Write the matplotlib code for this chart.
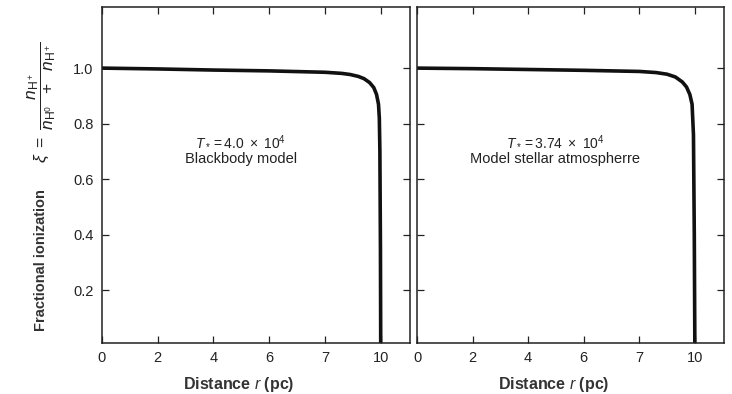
import matplotlib.pyplot as plt

plt.rcParams["font.family"] = ["Liberation Sans", "DejaVu Sans"]
plt.rcParams["mathtext.fontset"] = "custom"
plt.rcParams["mathtext.rm"] = "Liberation Sans"
plt.rcParams["mathtext.it"] = "Liberation Sans:italic"
plt.rcParams["mathtext.bf"] = "Liberation Sans:bold"

# data
r_bb = [0, 2, 4, 6, 8, 8.6, 8.9, 9.2, 9.4, 9.6, 9.75, 9.85, 9.92, 9.95, 9.97, 9.99, 10.0]
xi_bb = [1.0, 0.997, 0.993, 0.99, 0.985, 0.981, 0.977, 0.970, 0.962, 0.948, 0.93, 0.905, 0.87, 0.82, 0.7, 0.35, 0.0]

r_atm = [0, 2, 4, 6, 8, 8.6, 9.0, 9.3, 9.55, 9.7, 9.82, 9.9, 9.95, 9.98, 10.0]
xi_atm = [1.0, 0.998, 0.995, 0.992, 0.988, 0.984, 0.978, 0.968, 0.95, 0.932, 0.905, 0.87, 0.76, 0.4, 0.0]

xticks = [0, 2, 4, 6, 8, 10]
xticklabels = ["0", "2", "4", "6", "7", "10"]
yticks = [0.2, 0.4, 0.6, 0.8, 1.0]
yticklabels = ["0.2", "0.4", "0.6", "0.8", "1.0"]

labels = [
    (r"$T_* = 4.0\ \times\ 10^4$", "Blackbody model"),
    (r"$T_* = 3.74\ \times\ 10^4$", "Model stellar atmospherre"),
]

fig = plt.figure(figsize=(7.32, 3.94), dpi=100)
ax1 = fig.add_axes([0.1393, 0.1294, 0.4208, 0.8528])
ax2 = fig.add_axes([0.5697, 0.1294, 0.4194, 0.8528])

for ax, r, xi, (l1, l2) in zip([ax1, ax2], [r_bb, r_atm], [xi_bb, xi_atm], labels):
    ax.plot(r, xi, color="#111111", lw=2.6, solid_capstyle="butt")
    ax.set_xlim(0, 11.05)
    ax.set_ylim(0.01, 1.22)
    ax.set_xticks(xticks)
    ax.set_xticklabels(xticklabels)
    ax.set_yticks(yticks)
    ax.tick_params(direction="in", length=5, width=0.9, top=True, right=True,
                   labelsize=10.5, colors="#222222", pad=6)
    for s in ax.spines.values():
        s.set_linewidth(1.1)
        s.set_color("#222222")
    ax.set_xlabel(r"Distance $r$ (pc)", fontsize=11.5, fontweight="bold", color="#333333")
    ax.xaxis.set_label_coords(0.445, -0.095)
    ax.text(0.451, 0.574, l1, transform=ax.transAxes, ha="center", va="bottom",
            fontsize=10, color="#222222")
    ax.text(0.451, 0.568, l2, transform=ax.transAxes, ha="center", va="top",
            fontsize=10.5, color="#222222")

ax1.set_yticklabels(yticklabels)
ax2.set_yticklabels([])
ax1.set_ylabel("Fractional ionization", fontsize=10.5, fontweight="bold", color="#333333")
ax1.yaxis.set_label_coords(-0.174, 0.247)
fig.text(0.0574, 0.741,
         r"$\xi\ =\ \dfrac{n_{\mathrm{H}^+}}{n_{\mathrm{H}^0}\ \ +\ \ n_{\mathrm{H}^+}}$",
         rotation=90, ha="center", va="center", fontsize=12.5, color="#222222")

fig.savefig("out.png", dpi=100)
